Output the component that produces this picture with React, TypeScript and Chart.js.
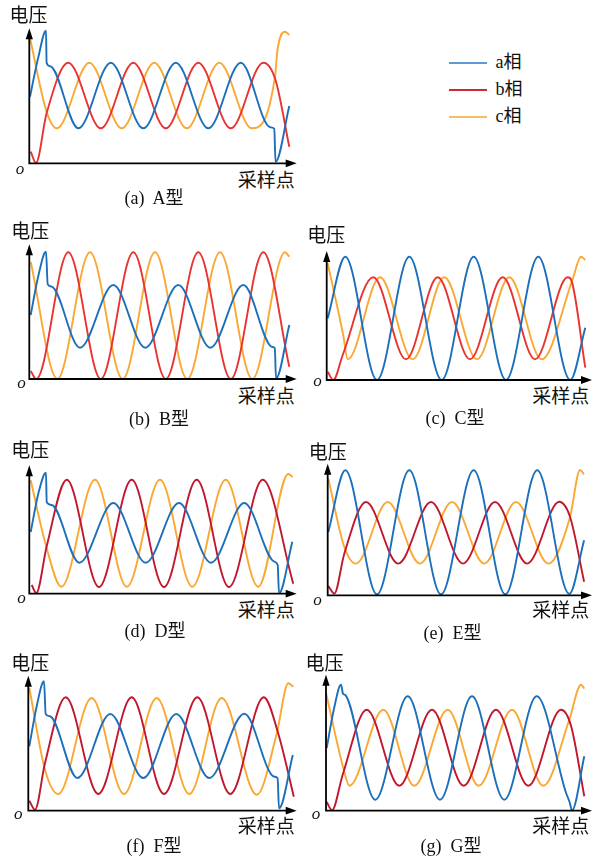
import React, { useEffect, useRef } from 'react';
import { Chart, registerables } from 'chart.js';

Chart.register(...registerables);

type Pt = [number, number];

// ---- text ----
const phaseNames = ['a相', 'b相', 'c相'];
const captions = ['(a)  A型', '(b)  B型', '(c)  C型', '(d)  D型', '(e)  E型', '(f)  F型', '(g)  G型'];
const yAxisLabel = '电压';
const xAxisLabel = '采样点';
const originLabel = 'o';

// ---- data: [sample point, voltage] (extrema and kinks) ----
const A_a: Pt[] = [[0.7, 66.6], [9, 106], [16.7, 132.6], [17.3, 100.6], [21, 97], [49, 35], [81.5, 100.6], [114, 35], [146.5, 100.6], [179, 35], [211.5, 100.6], [241, 36], [245, 34.5], [246.2, 1.5], [260, 57.3]];
const A_b: Pt[] = [[1.4, 11.6], [6.7, 0.5], [17.3, 50], [39, 100.6], [71.5, 35], [104, 100.6], [136.5, 35], [169, 100.6], [201.5, 35], [234, 100.6], [246, 84], [260, 16.6]];
const A_c: Pt[] = [[0.7, 125], [17.3, 51.6], [27.5, 35], [60, 100.6], [92.5, 35], [125, 100.6], [157.5, 35], [190, 100.6], [222.5, 35], [246, 89], [248, 112], [255.7, 131.6], [260, 128.3]];

const B_a: Pt[] = [[1.4, 64], [9, 103], [16.7, 127.3], [18.4, 94.7], [22.4, 92.3], [50.7, 31.3], [84, 94], [116, 31.3], [149, 94], [181, 31.3], [214, 94], [243, 32], [245.5, 31], [246.7, 0.5], [260, 54]];
const B_b: Pt[] = [[1.4, 8], [7, 0], [39, 126.7], [71.5, 0], [104, 126.7], [136.5, 0], [169, 126.7], [201.5, 0], [234, 126.7], [260, 12.3]];
const B_c: Pt[] = [[1.4, 117], [28, 0], [60.7, 126.7], [93.4, 0], [125.7, 126.7], [158, 0], [190.7, 126.7], [223, 0], [255.7, 126.7], [260, 122.3]];

const C_a: Pt[] = [[1, 61.7], [18.6, 123.3], [50.3, 0], [82.6, 123.3], [115, 0], [147, 123.3], [179.3, 0], [211.6, 123.3], [243.6, 0], [258.6, 52.3]];
const C_b: Pt[] = [[1, 8.3], [6.6, 0], [16, 25], [46.6, 102.7], [79.3, 20.7], [111, 102.7], [143.3, 20.7], [176, 102.7], [208.3, 20.7], [241, 102.7], [244.5, 100], [258.6, 12.3]];
const C_c: Pt[] = [[1, 116.7], [16.5, 45], [21, 20.7], [53.3, 102.7], [86, 20.7], [117.6, 102.7], [150.3, 20.7], [182.6, 102.7], [215, 20.7], [246, 101], [254.3, 123.3], [258.6, 120]];

const D_a: Pt[] = [[1.4, 61.7], [9, 100], [16.7, 121], [17.4, 91.5], [22.4, 88.7], [50, 31], [84, 90.7], [116.4, 31], [149.7, 90.7], [181.7, 31], [215, 90.7], [245, 32], [248.4, 28.7], [249.7, 0.5], [263, 52]];
const D_b: Pt[] = [[2.4, 8.6], [7, 0.7], [17.4, 47.5], [37.4, 114], [69.7, 6.7], [102.4, 114], [134.7, 6.7], [167.4, 114], [199.7, 6.7], [233.4, 114], [264, 10]];
const D_c: Pt[] = [[1.4, 113.4], [16.7, 48], [32, 7], [65.7, 114], [97.5, 7], [130.7, 114], [163, 7], [196.4, 114], [229, 7], [259, 119.7], [263.4, 116.7]];

const E_a: Pt[] = [[0.6, 63.3], [17.6, 125], [49.3, 1], [81.6, 125], [113.3, 1], [146, 125], [177.6, 1], [209.5, 125], [241.6, 1.5], [256.4, 55]];
const E_b: Pt[] = [[0.6, 9.3], [6.6, 1.7], [16.6, 41.6], [38.3, 93.3], [70.5, 31.7], [103.3, 93.3], [135.3, 31.7], [167.3, 93.3], [199.5, 31.7], [231.6, 93.5], [242.3, 78.6], [256.4, 13.6]];
const E_c: Pt[] = [[0.6, 116.6], [16.6, 48.3], [28.3, 31.7], [60, 93.3], [92.3, 31.7], [124.3, 93.3], [156.6, 31.7], [188.3, 93.3], [220.8, 31.7], [242.3, 78], [252.3, 125.3], [256.4, 121]];

const F_a: Pt[] = [[1, 64.4], [8.5, 105], [15.7, 129.4], [17.4, 96.7], [21.7, 94.4], [49, 32.7], [82, 96.7], [115, 32.7], [148, 96.7], [181, 32.7], [216, 97], [246, 34], [249.3, 32.4], [250.7, 2.4], [264.5, 55.7]];
const F_b: Pt[] = [[1, 10], [6.7, 1], [16.7, 47.7], [37.4, 113.4], [70, 16.7], [103.4, 113.4], [135.7, 16.7], [169, 113.4], [202, 16.7], [235.5, 113.4], [250, 77], [265.5, 14]];
const F_c: Pt[] = [[1, 122.7], [16.7, 41], [30, 16.7], [63.4, 112.7], [95.7, 16.7], [128.4, 112.7], [161, 16.7], [193.4, 112.7], [228.5, 16], [248.4, 77], [260, 127.4], [265, 124]];

const G_a: Pt[] = [[0.7, 62.7], [8, 102], [15, 126], [17, 117], [19.5, 115.5], [49.3, 11], [81.7, 114.4], [114, 11], [146, 114.4], [178.3, 11], [210.7, 114.4], [240, 18], [243.5, 9], [246, 0.4], [258.3, 54.4]];
const G_b: Pt[] = [[0.7, 8.7], [6, 0.4], [16.7, 36], [40.7, 101], [73.3, 25], [106, 101], [137.7, 25], [170, 101], [202.3, 25], [235, 101], [245, 85], [258.3, 14.4]];
const G_c: Pt[] = [[0, 117.7], [18, 40], [23.3, 25], [57.3, 101], [88.3, 25], [121.7, 101], [152.7, 25], [186, 101], [217.3, 25], [243.3, 91], [255, 126], [258.3, 122]];

// ---- styles ----
const BLUE = '#1c6fba';
const RED_BRIGHT = '#e8332f';
const RED_DARK = '#c0172e';
const ORANGE = '#faa833';
const SERIF = '"Liberation Serif", "Noto Sans CJK SC", serif';

interface Panel {
  series: Pt[][];
  red: string;
  ox: number; oy: number; tx: number; ty: number;
  yl: [number, number]; ol: [number, number]; xl: [number, number]; cap: [number, number];
}

const panels: Panel[] = [
  { series: [A_a, A_b, A_c], red: RED_BRIGHT, ox: 29.3, oy: 163.3, tx: 296.7, ty: 28.3, yl: [10, 7], ol: [16.7, 166.7], xl: [238.3, 171.7], cap: [154, 192] },
  { series: [B_a, B_b, B_c], red: RED_BRIGHT, ox: 29.3, oy: 379, tx: 296.7, ty: 244.3, yl: [11.7, 223.3], ol: [18.3, 380], xl: [238.3, 388.3], cap: [159, 413] },
  { series: [C_a, C_b, C_c], red: RED_BRIGHT, ox: 326.7, oy: 380, tx: 592, ty: 251, yl: [307.7, 226.7], ol: [314.3, 378.3], xl: [532.7, 388.3], cap: [455, 411.7] },
  { series: [D_a, D_b, D_c], red: RED_DARK, ox: 29.3, oy: 593.7, tx: 296.7, ty: 465.3, yl: [11.7, 442], ol: [18.3, 595.3], xl: [238.3, 602], cap: [155, 625] },
  { series: [E_a, E_b, E_c], red: RED_DARK, ox: 327.7, oy: 595.3, tx: 592, ty: 463.7, yl: [309.3, 443.7], ol: [314.3, 597], xl: [532.7, 602], cap: [452.5, 627] },
  { series: [F_a, F_b, F_c], red: RED_DARK, ox: 28.3, oy: 810.7, tx: 296.7, ty: 675.7, yl: [11.7, 654.7], ol: [15, 811], xl: [238.3, 818], cap: [154, 839.7] },
  { series: [G_a, G_b, G_c], red: RED_DARK, ox: 326, oy: 810.7, tx: 592, ty: 674.7, yl: [306, 654.7], ol: [312.7, 811], xl: [532.7, 818], cap: [451, 839.7] },
];

const arrowAxes = {
  id: 'arrowAxes',
  afterDatasetsDraw(chart: any) {
    const { ctx, chartArea } = chart;
    const { left, top, right, bottom } = chartArea;
    const L = 11, HW = 3.6;
    ctx.save();
    ctx.strokeStyle = '#000';
    ctx.fillStyle = '#000';
    ctx.lineWidth = 1.8;
    ctx.lineCap = 'butt';
    ctx.beginPath();
    ctx.moveTo(left, bottom + 0.9);
    ctx.lineTo(left, top + L - 1);
    ctx.moveTo(left - 0.9, bottom);
    ctx.lineTo(right - L + 1, bottom);
    ctx.stroke();
    ctx.beginPath();
    ctx.moveTo(left, top);
    ctx.lineTo(left - HW, top + L);
    ctx.lineTo(left + HW, top + L);
    ctx.closePath();
    ctx.fill();
    ctx.beginPath();
    ctx.moveTo(right, bottom);
    ctx.lineTo(right - L, bottom - HW - 0.3);
    ctx.lineTo(right - L, bottom + HW + 0.3);
    ctx.closePath();
    ctx.fill();
    ctx.restore();
  },
};

function PanelChart({ p, caption }: { p: Panel; caption: string }) {
  const ref = useRef<HTMLCanvasElement>(null);
  const cx = Math.floor(p.ox - 12);
  const cy = Math.floor(p.ty - 4);
  const cr = Math.ceil(p.tx + 4);
  const cb = Math.ceil(p.oy + 6);
  const cw = cr - cx;
  const ch = cb - cy;

  useEffect(() => {
    if (!ref.current) return;
    const colors = [BLUE, p.red, ORANGE];
    const chart = new Chart(ref.current, {
      type: 'line',
      data: {
        datasets: p.series.map((s, i) => ({
          label: phaseNames[i],
          data: s.map(([x, y]) => ({ x, y })),
          borderColor: colors[i],
          backgroundColor: colors[i],
          borderWidth: 1.9,
          pointRadius: 0,
          fill: false,
          cubicInterpolationMode: 'monotone' as const,
          clip: false as any,
        })),
      },
      options: {
        animation: false,
        responsive: false,
        maintainAspectRatio: false,
        devicePixelRatio: 1,
        events: [],
        layout: {
          padding: {
            left: p.ox - cx,
            top: p.ty - cy,
            right: cr - p.tx,
            bottom: cb - p.oy,
          },
        },
        scales: {
          x: { type: 'linear', display: false, min: 0, max: p.tx - p.ox },
          y: { type: 'linear', display: false, min: 0, max: p.oy - p.ty },
        },
        plugins: { legend: { display: false }, tooltip: { enabled: false } },
      },
      plugins: [arrowAxes],
    });
    return () => chart.destroy();
  }, []);

  const cjk: React.CSSProperties = { position: 'absolute', fontFamily: SERIF, fontSize: 19, lineHeight: '19px', color: '#111', whiteSpace: 'pre' };
  return (
    <>
      <canvas ref={ref} width={cw} height={ch} style={{ position: 'absolute', left: cx, top: cy, width: cw, height: ch, display: 'block' }} />
      <div style={{ ...cjk, left: p.yl[0] - 0.5, top: p.yl[1] - 1 }}>{yAxisLabel}</div>
      <div style={{ ...cjk, left: p.xl[0] - 0.5, top: p.xl[1] - 1 }}>{xAxisLabel}</div>
      <div style={{ ...cjk, fontSize: 17, lineHeight: '17px', fontStyle: 'italic', left: p.ol[0] - 1, top: p.ol[1] - 6.4 }}>{originLabel}</div>
      <div style={{ ...cjk, fontSize: 18, lineHeight: '18px', left: p.cap[0] - 100, width: 200, textAlign: 'center', top: p.cap[1] - 3 }}>{caption}</div>
    </>
  );
}

export default function App() {
  const legendColors = ['#5e9bd3', '#cc2a30', '#f4bf62'];
  const legendY = [63.3, 90, 116.7];
  return (
    <div style={{ position: 'absolute', left: 0, top: 0, width: 596, height: 864, background: '#fff', overflow: 'hidden' }}>
      {panels.map((p, i) => (
        <PanelChart key={i} p={p} caption={captions[i]} />
      ))}
      {phaseNames.map((n, i) => (
        <React.Fragment key={n}>
          <div style={{ position: 'absolute', left: 449.3, width: 38, top: legendY[i] - 1, height: 2, background: legendColors[i] }} />
          <div style={{ position: 'absolute', left: 495.5, top: legendY[i] - 10, fontFamily: SERIF, fontSize: 18, lineHeight: '18px', color: '#111', whiteSpace: 'pre' }}>{n}</div>
        </React.Fragment>
      ))}
    </div>
  );
}
